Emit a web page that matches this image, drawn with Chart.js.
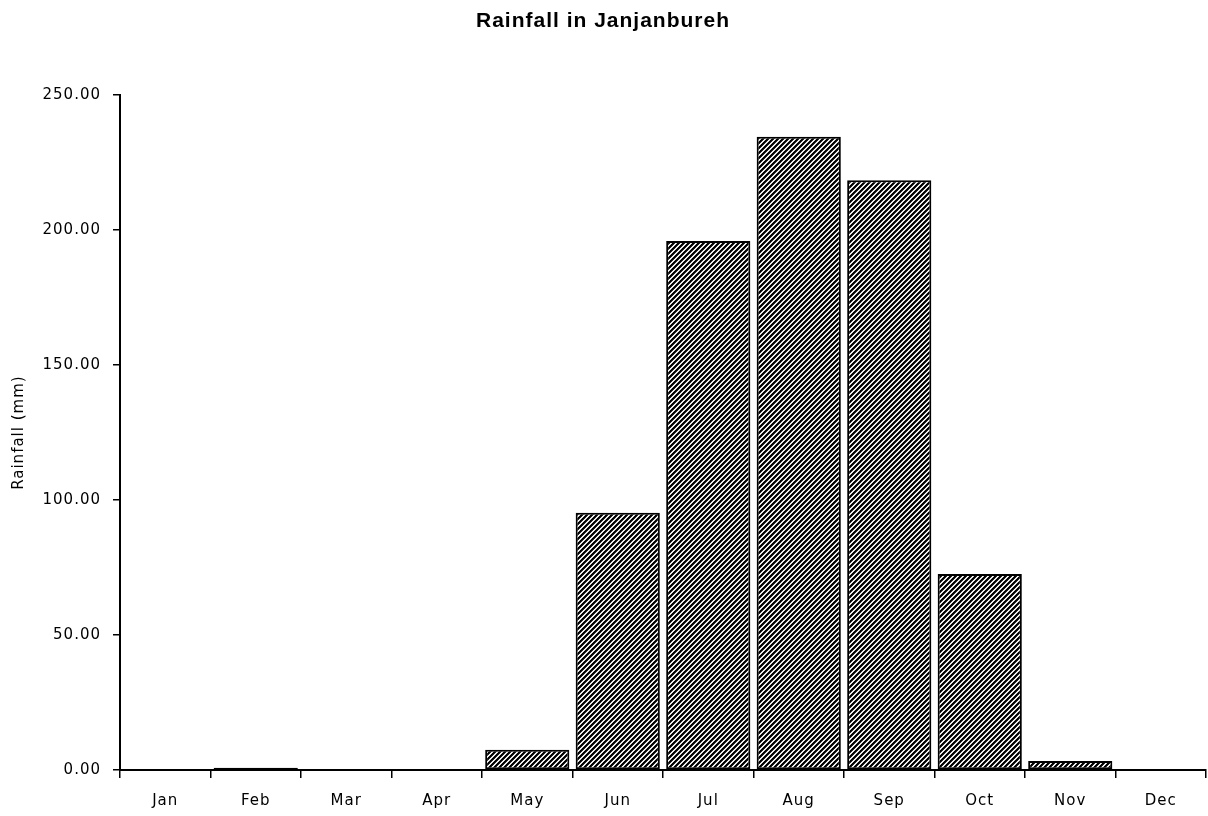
<!DOCTYPE html>
<html>
<head>
<meta charset="utf-8">
<title>Rainfall in Janjanbureh</title>
<script src="https://cdn.jsdelivr.net/npm/chart.js@4.4.1/dist/chart.umd.min.js"></script>
<style>
  html, body { margin: 0; padding: 0; background: #ffffff; }
  #wrap { width: 1208px; height: 816px; }
</style>
</head>
<body>
<div id="wrap"><canvas id="chart" width="1208" height="816"></canvas></div>
<script>
// Monthly rainfall, Janjanbureh (mm)
const months = ['Jan', 'Feb', 'Mar', 'Apr', 'May', 'Jun', 'Jul', 'Aug', 'Sep', 'Oct', 'Nov', 'Dec'];
const rainfall = [0, 0.8, 0, 0, 7.5, 95.3, 196.0, 234.6, 218.5, 72.6, 3.3, 0];
const yTicks = [0, 50, 100, 150, 200, 250];

// Diagonal hatch fill (black stripes rising to the right)
function makeHatch() {
  const size = 5;
  const shades = [0, 0, 40, 255, 210];
  const c = document.createElement('canvas');
  c.width = size; c.height = size;
  const g = c.getContext('2d');
  const img = g.createImageData(size, size);
  for (let y = 0; y < size; y++) {
    for (let x = 0; x < size; x++) {
      const v = shades[(x + y) % size];
      const i = (y * size + x) * 4;
      img.data[i] = v; img.data[i + 1] = v; img.data[i + 2] = v; img.data[i + 3] = 255;
    }
  }
  g.putImageData(img, 0, 0);
  return g.createPattern(c, 'repeat');
}

// Slightly spaced lettering used throughout the chart
const spacing = {
  id: 'letterSpacing',
  beforeUpdate(chart) { chart.ctx.letterSpacing = '1px'; },
  beforeDraw(chart) { chart.ctx.letterSpacing = '1px'; }
};

const baseFont = { family: "'DejaVu Sans', Verdana, sans-serif", size: 15 };

new Chart(document.getElementById('chart'), {
  type: 'bar',
  data: {
    labels: months,
    datasets: [{
      label: 'Rainfall (mm)',
      data: rainfall,
      backgroundColor: makeHatch(),
      borderColor: '#000000',
      borderWidth: 2,
      borderSkipped: false,
      barPercentage: 0.93,
      categoryPercentage: 1.0
    }]
  },
  options: {
    responsive: false,
    animation: false,
    devicePixelRatio: 1,
    layout: { padding: { left: 0, right: 2, top: 0, bottom: 0 } },
    plugins: {
      legend: { display: false },
      tooltip: { enabled: false },
      title: {
        display: true,
        text: 'Rainfall in Janjanbureh',
        color: '#000000',
        font: { family: "'Liberation Sans', Arial, sans-serif", size: 21, weight: 'bold' },
        padding: { top: 9, bottom: 61 }
      }
    },
    scales: {
      x: {
        grid: { display: true, drawOnChartArea: false, color: '#000000', lineWidth: 1.5, tickLength: 8, offset: true },
        border: { display: true, color: '#000000', width: 2 },
        ticks: { color: '#000000', font: baseFont, padding: 14, maxRotation: 0, autoSkip: false },
        afterFit(scale) { scale.height = 46; }
      },
      y: {
        min: 0,
        max: 250,
        afterBuildTicks(scale) { scale.ticks = yTicks.map(v => ({ value: v })); },
        grid: { display: true, drawOnChartArea: false, color: '#000000', lineWidth: 1.5, tickLength: 7 },
        border: { display: true, color: '#000000', width: 2 },
        ticks: {
          color: '#000000',
          font: baseFont,
          padding: 12,
          callback: v => Number(v).toFixed(2)
        },
        title: {
          display: true,
          text: 'Rainfall (mm)',
          color: '#000000',
          font: baseFont,
          padding: { top: 10, bottom: 0 }
        },
        afterFit(scale) { scale.width = 120; }
      }
    }
  },
  plugins: [spacing]
});
</script>
</body>
</html>
